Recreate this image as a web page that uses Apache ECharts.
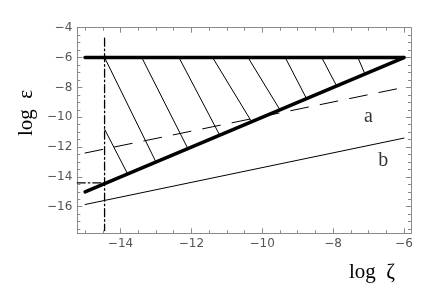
<!DOCTYPE html>
<html>
<head>
<meta charset="utf-8">
<script src="https://cdn.jsdelivr.net/npm/echarts@6/dist/echarts.min.js"></script>
<style>
  html, body { margin: 0; padding: 0; background: #fff; }
  #chart { width: 436px; height: 300px; }
</style>
</head>
<body>
<div id="chart"></div>
<script>
// axis ranges and tick labels
const xRange = [-15.22, -5.8];
const yRange = [-17.78, -4];
const xTicks = [-14, -12, -10, -8, -6];
const yTicks = [-16, -14, -12, -10, -8, -6, -4];

// boundary lines, [log zeta, log eps]
const upperLine = [[-15, -6], [-6, -6]];
const lowerLine = [[-15, -15], [-6, -6]];
const lineA = [[-15, -12.4], [-6, -8]];
const lineB = [[-15, -15.85], [-6, -11.4]];
const vCut = [[-14.45, -4.7], [-14.45, -17.6]];
const hCut = [[-15.22, -14.4], [-14.45, -14.4]];

// hatch strokes inside the allowed region
const hatchStart = [[-14.45, -10.8], [-14.45, -6], [-13.4, -6], [-12.35, -6], [-11.4, -6],
                    [-10.4, -6], [-9.35, -6], [-8.32, -6], [-7.3, -6]];
const hatchEnd = [[-13.8, -13.8], [-13, -13], [-12.1, -12.1], [-11.2, -11.2], [-10.3, -10.3],
                  [-9.5, -9.5], [-8.75, -8.75], [-7.9, -7.9], [-7.1, -7.1]];

// curve labels
const labelA = [-7, -10];
const labelB = [-6.58, -12.9];

// minor ticks every 0.5
function minors(r) {
  const out = [];
  for (let v = Math.ceil(r[0] * 2) / 2; v <= r[1] + 1e-9; v += 0.5) out.push(v);
  return out;
}

const frameColor = '#8a8a8a';
const minus = v => (v < 0 ? '\u2212' : '') + Math.abs(v);

function axis(dim, pos, ticks, len, main) {
  const r = dim === 'x' ? xRange : yRange;
  return {
    type: 'value',
    position: pos,
    min: r[0],
    max: r[1],
    axisLine: { show: main, onZero: false, lineStyle: { color: frameColor, width: 1 } },
    axisTick: { show: true, inside: true, length: len, customValues: ticks,
                lineStyle: { color: frameColor, width: 1 } },
    axisLabel: {
      show: main && (pos === 'bottom' || pos === 'left'),
      customValues: ticks,
      formatter: minus,
      color: '#555',
      fontFamily: 'DejaVu Sans',
      fontSize: 12,
      margin: 5
    },
    splitLine: { show: false }
  };
}

const xMinor = minors(xRange);
const yMinor = minors(yRange);

function seg(data, width, type, z) {
  return {
    type: 'line',
    data: data,
    showSymbol: false,
    symbol: 'none',
    silent: true,
    z: z || 2,
    lineStyle: { color: '#000', width: width, type: type || 'solid', cap: 'round' }
  };
}

const series = [];
hatchStart.forEach((p, i) => series.push(seg([p, hatchEnd[i]], 1, 'solid', 2)));
series.push(seg(lineA, 1, [18, 12], 2));
series.push(seg(lineB, 1, 'solid', 2));
series.push(seg(vCut, 1.3, [8, 3, 1.5, 3], 3));
series.push(seg(hCut, 1.3, [8, 3, 1.5, 3], 3));
series.push(seg(upperLine, 3.5, 'solid', 4));
series.push(seg(lowerLine, 3.5, 'solid', 4));

[['a', labelA], ['b', labelB]].forEach(([t, p]) => {
  series.push({
    type: 'scatter',
    data: [p],
    symbolSize: 0,
    itemStyle: { color: 'rgba(0,0,0,0)' },
    silent: true,
    label: {
      show: true,
      position: 'inside',
      formatter: t,
      color: '#000',
      fontFamily: 'Liberation Serif',
      fontSize: 20
    }
  });
});

const chart = echarts.init(document.getElementById('chart'), null, { renderer: 'canvas' });
chart.setOption({
  animation: false,
  backgroundColor: '#fff',
  grid: { left: 77.3, right: 25, top: 27.7, bottom: 66.7, containLabel: false },
  xAxis: [
    axis('x', 'bottom', xTicks, 5, true),
    axis('x', 'bottom', xMinor, 3, false),
    axis('x', 'top', xTicks, 5, true),
    axis('x', 'top', xMinor, 3, false)
  ],
  yAxis: [
    axis('y', 'left', yTicks, 5, true),
    axis('y', 'left', yMinor, 3, false),
    axis('y', 'right', yTicks, 5, true),
    axis('y', 'right', yMinor, 3, false)
  ],
  graphic: [
    {
      type: 'text',
      x: 349, y: 262,
      style: { text: 'log  \u03b6', font: '21px "Liberation Serif"', fill: '#000',
               align: 'left', verticalAlign: 'top' }
    },
    {
      type: 'text',
      x: 26, y: 113,
      rotation: Math.PI / 2,
      style: { text: 'log  \u03b5', font: '21px "Liberation Serif"', fill: '#000',
               align: 'center', verticalAlign: 'middle' }
    }
  ],
  series: series
});
</script>
</body>
</html>
